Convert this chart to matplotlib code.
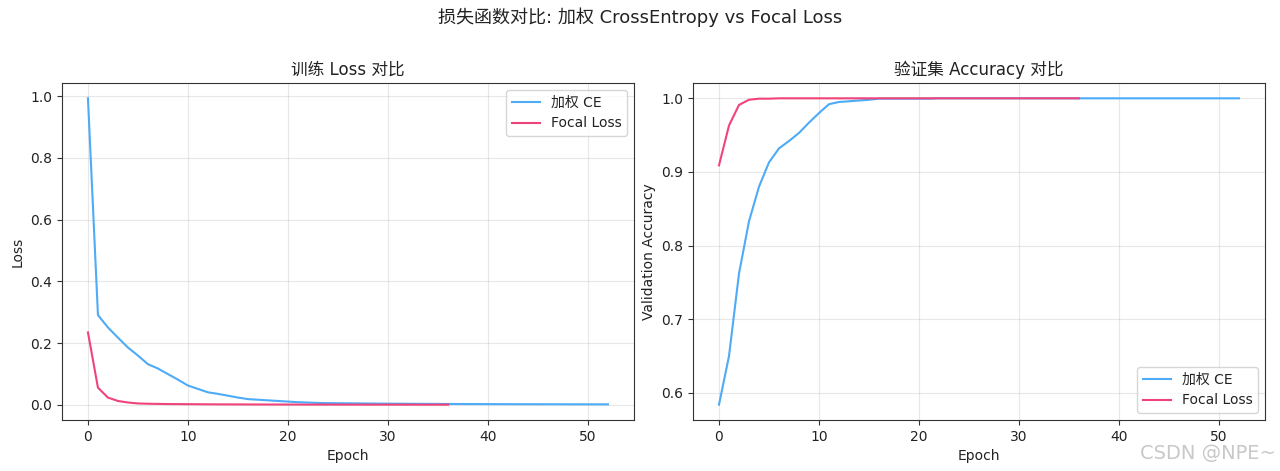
import matplotlib
matplotlib.use("Agg")
import matplotlib.pyplot as plt

plt.rcParams['font.family'] = ['DejaVu Sans', 'Noto Sans CJK SC']
plt.rcParams['axes.unicode_minus'] = False
plt.rcParams['text.color'] = '#222222'
plt.rcParams['axes.labelcolor'] = '#222222'
plt.rcParams['xtick.color'] = '#333333'
plt.rcParams['ytick.color'] = '#333333'
plt.rcParams['xtick.labelcolor'] = '#222222'
plt.rcParams['ytick.labelcolor'] = '#222222'
plt.rcParams['axes.edgecolor'] = '#333333'

epochs_ce = list(range(53))
epochs_focal = list(range(37))

loss_ce = [0.993, 0.291, 0.251, 0.218, 0.186, 0.160, 0.132, 0.118, 0.100, 0.082,
           0.063, 0.052, 0.041, 0.036, 0.030, 0.024, 0.019, 0.017, 0.015, 0.013,
           0.011, 0.009, 0.008, 0.0065, 0.006, 0.0057, 0.0054, 0.0051, 0.0048, 0.0045,
           0.0043, 0.0041, 0.0039, 0.0037, 0.0035, 0.0034, 0.0032, 0.0031, 0.0030, 0.0029,
           0.0028, 0.0027, 0.0026, 0.0025, 0.0025, 0.0024, 0.0023, 0.0023, 0.0022, 0.0022,
           0.0021, 0.0021, 0.0020]
loss_focal = [0.235, 0.056, 0.024, 0.013, 0.008, 0.005, 0.004, 0.0035, 0.003, 0.0028,
              0.0026, 0.0024, 0.0022, 0.0020, 0.0019, 0.0018, 0.0017, 0.0016, 0.0015, 0.0015,
              0.0014, 0.0014, 0.0013, 0.0013, 0.0013, 0.0012, 0.0012, 0.0012, 0.0011, 0.0011,
              0.0011, 0.0011, 0.0010, 0.0010, 0.0010, 0.0010, 0.0010]

acc_ce = [0.584, 0.650, 0.762, 0.833, 0.880, 0.913, 0.932, 0.942, 0.953, 0.967,
          0.980, 0.992, 0.995, 0.996, 0.997, 0.998, 0.9995, 0.9995, 0.9995, 0.9995,
          0.9995, 0.9995, 1.0, 1.0, 1.0, 1.0, 1.0, 1.0, 1.0, 1.0,
          1.0, 1.0, 1.0, 1.0, 1.0, 1.0, 1.0, 1.0, 1.0, 1.0,
          1.0, 1.0, 1.0, 1.0, 1.0, 1.0, 1.0, 1.0, 1.0, 1.0,
          1.0, 1.0, 1.0]
acc_focal = [0.909, 0.963, 0.991, 0.998, 0.9995, 0.9995, 1.0, 1.0, 1.0, 1.0,
             1.0, 1.0, 1.0, 1.0, 1.0, 1.0, 1.0, 1.0, 1.0, 1.0,
             1.0, 1.0, 1.0, 1.0, 1.0, 1.0, 1.0, 1.0, 1.0, 1.0,
             1.0, 1.0, 1.0, 1.0, 1.0, 1.0, 1.0]

label_ce = '加权 CE'
label_focal = 'Focal Loss'
c_ce = '#4DABF7'
c_focal = '#F0437A'

fig = plt.figure(figsize=(12.8, 4.71), dpi=100)
ax1 = fig.add_axes([0.0484, 0.1083, 0.4469, 0.7155])
ax2 = fig.add_axes([0.5414, 0.1083, 0.4469, 0.7155])

ax1.plot(epochs_ce, loss_ce, color=c_ce, lw=1.5, label=label_ce)
ax1.plot(epochs_focal, loss_focal, color=c_focal, lw=1.5, label=label_focal)
ax1.set_title('训练 Loss 对比', fontsize=12)
ax1.set_xlabel('Epoch', fontsize=10)
ax1.set_ylabel('Loss', fontsize=10)
ax1.legend(loc='upper right', fontsize=10)
ax1.grid(True, alpha=0.3)

ax2.plot(epochs_ce, acc_ce, color=c_ce, lw=1.5, label=label_ce)
ax2.plot(epochs_focal, acc_focal, color=c_focal, lw=1.5, label=label_focal)
ax2.set_title('验证集 Accuracy 对比', fontsize=12)
ax2.set_xlabel('Epoch', fontsize=10)
ax2.set_ylabel('Validation Accuracy', fontsize=10)
ax2.legend(loc='lower right', fontsize=10)
ax2.grid(True, alpha=0.3)

fig.suptitle('损失函数对比: 加权 CrossEntropy vs Focal Loss', fontsize=13, y=0.985)
fig.text(0.997, 0.018, 'CSDN @NPE~', ha='right', va='bottom', fontsize=14,
         color='#bbbbbb', alpha=0.8)

fig.savefig('out.png', dpi=100)
